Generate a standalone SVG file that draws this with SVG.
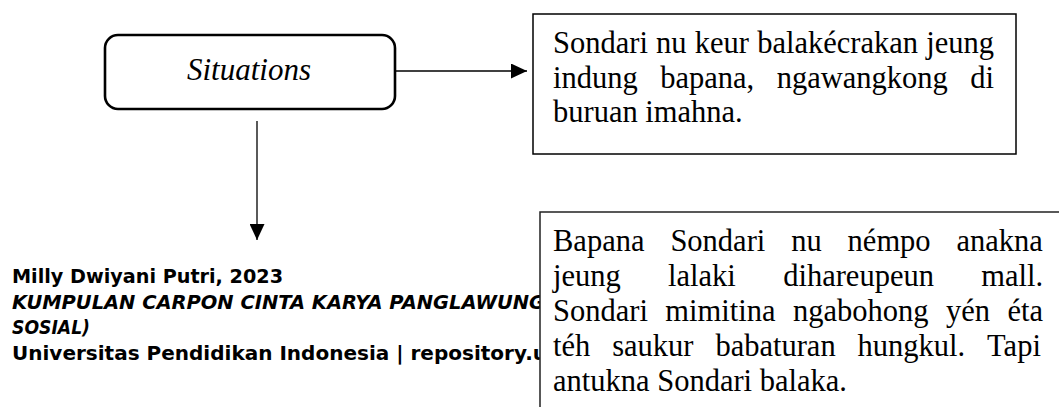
<svg xmlns="http://www.w3.org/2000/svg" width="1059" height="407" viewBox="0 0 1059 407">
<style>
.bg{fill:#fff}
.box{fill:#fff;stroke:#000;stroke-width:1.5}
.rbox{fill:#fff;stroke:#000;stroke-width:2.6}
.serif{font-family:"Liberation Serif","Times New Roman",serif;font-size:30.5px;fill:#000}
.ital{font-family:"Liberation Serif","Times New Roman",serif;font-size:31px;font-style:italic;fill:#000}
.foot{font-family:"DejaVu Sans","Liberation Sans",sans-serif;font-size:19.5px;font-weight:bold;fill:#000}
.conn{stroke:#000;stroke-width:1.3;fill:none}
</style>
<defs>
<marker id="ah" markerWidth="16" markerHeight="15" refX="16" refY="7.5" orient="auto" markerUnits="userSpaceOnUse">
<path d="M0,0 L16,7.5 L0,15 Z" fill="#000"/>
</marker>
</defs>
<rect class="bg" x="0" y="0" width="1059" height="407"/>

<g id="footer">
<text class="foot" x="12" y="283" textLength="271" lengthAdjust="spacingAndGlyphs">Milly Dwiyani Putri, 2023</text>
<text class="foot" x="12" y="308.5" font-style="italic" textLength="533" lengthAdjust="spacingAndGlyphs">KUMPULAN CARPON CINTA KARYA PANGLAWUNG</text>
<text class="foot" x="12" y="334" font-style="italic" textLength="78" lengthAdjust="spacingAndGlyphs">SOSIAL)</text>
<text class="foot" x="12" y="359.5" textLength="535" lengthAdjust="spacingAndGlyphs">Universitas Pendidikan Indonesia | repository.u</text>
</g>

<g id="connectors">
<line class="conn" x1="395" y1="71" x2="527" y2="71" marker-end="url(#ah)"/>
<line class="conn" x1="257" y1="121" x2="257" y2="240" marker-end="url(#ah)"/>
</g>

<g id="situations">
<rect class="rbox" x="105" y="35" width="290" height="74" rx="13" ry="13"/>
<text class="ital" x="249" y="80" text-anchor="middle">Situations</text>
</g>

<g id="node-top">
<rect class="box" x="533" y="14" width="483" height="140"/>
<text class="serif" y="53"><tspan x="553">Sondari</tspan><tspan x="656.1">nu</tspan><tspan x="694.8">keur</tspan><tspan x="757.2">balakécrakan</tspan><tspan x="926.3">jeung</tspan></text>
<text class="serif" y="87.5"><tspan x="553">indung</tspan><tspan x="660.2">bapana,</tspan><tspan x="776.7">ngawangkong</tspan><tspan x="970.3">di</tspan></text>
<text class="serif" x="553" y="122">buruan imahna.</text>
</g>

<g id="node-bottom">
<rect class="box" x="540" y="212" width="540" height="230" style="stroke:#222"/>
<text class="serif" y="251"><tspan x="553">Bapana</tspan><tspan x="670.4">Sondari</tspan><tspan x="791.2">nu</tspan><tspan x="847.6">némpo</tspan><tspan x="956.5">anakna</tspan></text>
<text class="serif" y="286"><tspan x="553">jeung</tspan><tspan x="668.1">lalaki</tspan><tspan x="783.2">dihareupeun</tspan><tspan x="981.3">mall.</tspan></text>
<text class="serif" y="321"><tspan x="553">Sondari</tspan><tspan x="665.3">mimitina</tspan><tspan x="793">ngabohong</tspan><tspan x="945.9">yén</tspan><tspan x="1007.4">éta</tspan></text>
<text class="serif" y="356"><tspan x="553">téh</tspan><tspan x="612.2">saukur</tspan><tspan x="715.4">babaturan</tspan><tspan x="857.6">hungkul.</tspan><tspan x="987.1">Tapi</tspan></text>
<text class="serif" x="553" y="391">antukna Sondari balaka.</text>
</g>
</svg>
